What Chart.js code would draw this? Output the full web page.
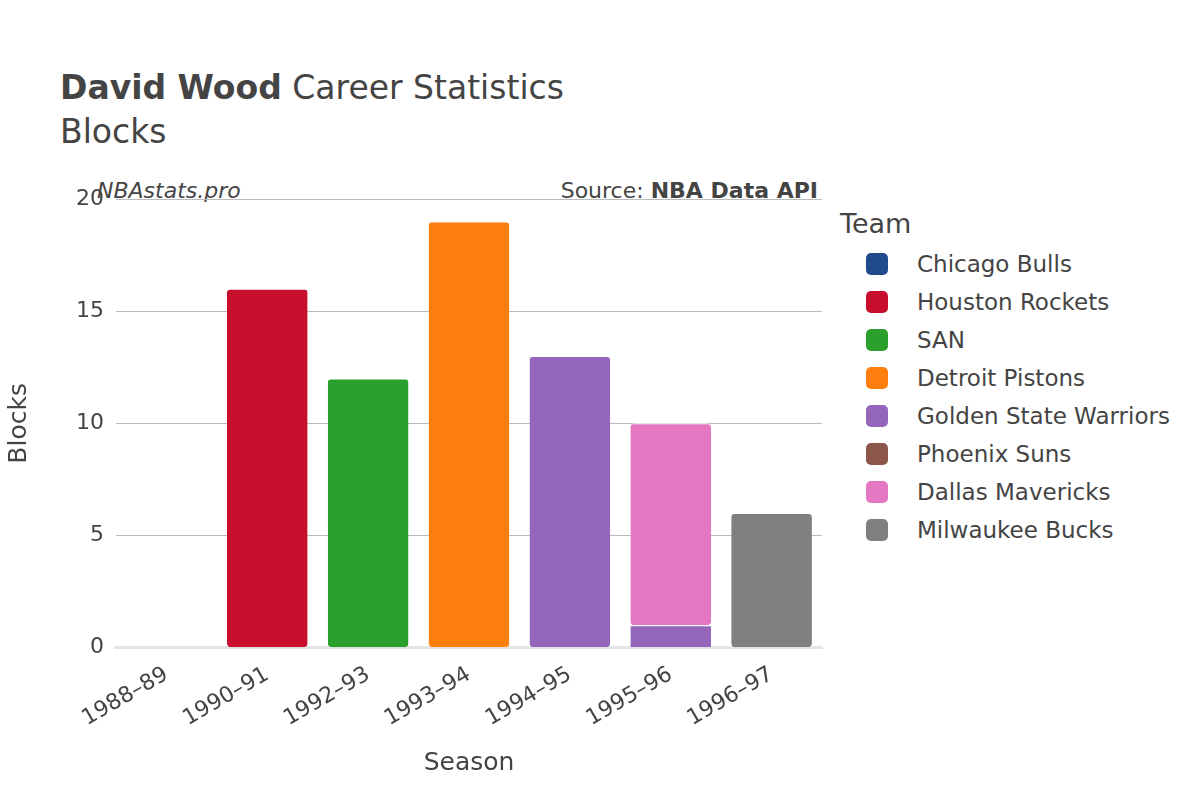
<!DOCTYPE html>
<html><head><meta charset="utf-8">
<script src="https://cdn.jsdelivr.net/npm/chart.js@4"></script>
<style>
body{margin:0;width:1200px;height:800px;background:#fff;font-family:"DejaVu Sans",sans-serif;color:#444;position:relative;overflow:hidden}
#wrap{position:absolute;left:0;top:0;width:840px;height:800px}
.t{position:absolute;white-space:nowrap}
#legend{position:absolute;left:840px;top:208px;font-size:23px;color:#444}
#legend .row{display:flex;align-items:center;height:38px;margin-left:26px}
#legend .sw{width:22px;height:22px;border-radius:5px;margin-right:29px}
</style></head><body>
<div class="t" style="left:60px;top:68px;font-size:33px;color:#444"><b>David Wood</b> Career Statistics</div>
<div class="t" style="left:60px;top:112px;font-size:33px;color:#444">Blocks</div>
<div class="t" style="left:97px;top:178px;font-size:22px;font-style:italic;color:#444">NBAstats.pro</div>
<div class="t" style="right:382px;top:178px;font-size:22px;color:#444">Source: <b>NBA Data API</b></div>
<div id="legend"><div style="margin:0 0 6px 0;font-size:27px">Team</div></div>
<div id="wrap"><canvas id="c" width="840" height="800"></canvas></div>
<script>
const seasons=["1988–89","1990–91","1992–93","1993–94","1994–95","1995–96","1996–97"];
const teams=["Chicago Bulls","Houston Rockets","SAN","Detroit Pistons","Golden State Warriors","Phoenix Suns","Dallas Mavericks","Milwaukee Bucks"];
const colors=["#1f4a8c","#c8102e","#2ca02c","#ff7f0e","#9467bd","#8c564b","#e377c2","#7f7f7f"];
const chicago=[0,null,null,null,null,null,null];
const houston=[null,16,null,null,null,null,null];
const san=[null,null,12,null,null,null,null];
const detroit=[null,null,null,19,null,null,null];
const golden=[null,null,null,null,13,1,null];
const phoenix=[null,null,null,null,null,0,null];
const dallas=[null,null,null,null,null,9,null];
const milwaukee=[null,null,null,null,null,null,6];
const series=[chicago,houston,san,detroit,golden,phoenix,dallas,milwaukee];
const lg=document.getElementById('legend');
teams.forEach((t,i)=>{const r=document.createElement('div');r.className='row';r.innerHTML=`<div class="sw" style="background:${colors[i]}"></div>${t}`;lg.appendChild(r);});
Chart.defaults.font.family='"DejaVu Sans", sans-serif';
new Chart(document.getElementById('c'),{type:'bar',
data:{labels:seasons,datasets:teams.map((t,i)=>({label:t,data:series[i],backgroundColor:colors[i],borderColor:'#fff',borderWidth:{top:1,left:0,right:0,bottom:0},borderRadius:4,borderSkipped:false,barPercentage:0.8,categoryPercentage:1}))},
options:{responsive:false,animation:false,devicePixelRatio:1,
layout:{padding:{left:0,right:18,top:199,bottom:18}},
plugins:{legend:{display:false},tooltip:{enabled:false}},
scales:{x:{stacked:true,grid:{display:false},border:{color:'#e5e5e5',width:3},ticks:{color:'#444',font:{size:22},minRotation:30,maxRotation:30,padding:6},title:{display:true,text:'Season',color:'#444',font:{size:25},padding:{top:10}}},
y:{stacked:true,min:0,max:20,ticks:{stepSize:5,color:'#444',font:{size:22},padding:12},grid:{color:'#bbb',drawTicks:false},border:{display:false},title:{display:true,text:'Blocks',color:'#444',font:{size:25},padding:{bottom:30}}}}}
});
</script>
</body></html>
